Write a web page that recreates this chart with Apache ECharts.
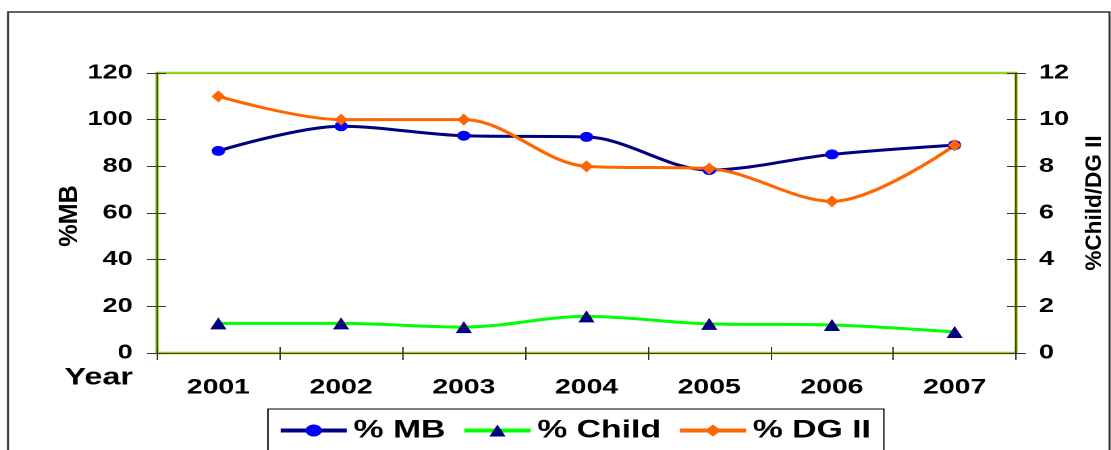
<!DOCTYPE html>
<html>
<head>
<meta charset="utf-8">
<title>% MB, % Child and % DG II, 2001–2007</title>
<script src="https://cdn.jsdelivr.net/npm/echarts@6/dist/echarts.min.js"></script>
<style>
  html, body { margin: 0; padding: 0; background: #fff; overflow: hidden; }
  #wrap { width: 1111px; height: 450px; overflow: hidden; position: relative; }
  /* the chart is laid out on a narrower canvas and widened to the page */
  #chart { width: 823px; height: 450px; transform: scaleX(1.35); transform-origin: 0 0; }
</style>
</head>
<body>
<div id="wrap"><div id="chart"></div></div>
<script>
// Years on the category axis
const years = ['2001', '2002', '2003', '2004', '2005', '2006', '2007'];
// % MB (left axis)
const mbValues = [86.6, 97.2, 93.1, 92.6, 78.4, 85.1, 89.1];
// % Child (right axis)
const childValues = [1.27, 1.27, 1.11, 1.57, 1.25, 1.2, 0.9];
// % DG II (right axis)
const dgValues = [11.0, 10.0, 10.0, 8.0, 7.9, 6.5, 8.9];
// Axis ranges and tick steps
const leftAxisRange = [0, 120, 20];
const rightAxisRange = [0, 12, 2];

const FONT = "'Liberation Sans', Arial, Helvetica, sans-serif";
const tickColor = '#333';
const SMOOTH = 0.33;

function valueAxis(pos, range, withLabels, inside, len) {
  return {
    type: 'value',
    position: pos,
    min: range[0], max: range[1], interval: range[2],
    splitLine: { show: false },
    axisLine: { show: withLabels, lineStyle: { color: '#3f4a00', width: 1 } },
    axisTick: { show: true, inside: inside, length: len, lineStyle: { color: tickColor, width: 1 } },
    axisLabel: {
      show: withLabels, margin: pos === 'left' ? 18 : 17,
      color: '#000', fontFamily: FONT, fontWeight: 'bold', fontSize: 20
    }
  };
}

function categoryAxis(withLabels, inside, len) {
  return {
    type: 'category',
    position: 'bottom',
    data: years,
    boundaryGap: true,
    axisLine: { show: withLabels, lineStyle: { color: '#3f4a00', width: 1 } },
    axisTick: { show: true, inside: inside, length: len, lineStyle: { color: tickColor, width: 1 } },
    axisLabel: {
      show: withLabels, margin: 24,
      color: '#000', fontFamily: FONT, fontWeight: 'bold', fontSize: 21
    }
  };
}

const chart = echarts.init(document.getElementById('chart'), null, { devicePixelRatio: 2 });

chart.setOption({
  animation: false,
  backgroundColor: '#fff',
  grid: {
    left: 116.3, right: 70.4, top: 73, bottom: 97,
    show: true, borderColor: '#9ccc2c', borderWidth: 2.5, backgroundColor: 'transparent'
  },
  graphic: [
    {
      type: 'rect', silent: true, z: -1,
      shape: { x: 5.9, y: 12, width: 816, height: 470 },
      style: { fill: 'none', stroke: '#333', lineWidth: 1.5 }
    },
    {
      type: 'text', x: 98.5, y: 378,
      style: {
        text: 'Year', align: 'right', verticalAlign: 'middle',
        font: "bold 24px " + FONT, fill: '#000'
      }
    },
    {
      type: 'text', x: 51.5, y: 216, rotation: Math.PI / 2, scaleX: 1.05, scaleY: 0.8,
      style: {
        text: '%MB', align: 'center', verticalAlign: 'middle',
        font: "bold 24px " + FONT, fill: '#000'
      }
    },
    {
      type: 'text', x: 811, y: 203, rotation: Math.PI / 2, scaleX: 0.94, scaleY: 0.7,
      style: {
        text: '%Child/DG II', align: 'center', verticalAlign: 'middle',
        font: "bold 24px " + FONT, fill: '#000'
      }
    }
  ],
  legend: {
    left: 198.5, top: 409,
    orient: 'horizontal',
    itemWidth: 49, itemHeight: 15, itemGap: 12,
    padding: [9, 9.6, 12, 7.4],
    borderColor: '#000', borderWidth: 1,
    backgroundColor: '#fff',
    lineStyle: { width: 4 },
    textStyle: { color: '#000', fontFamily: FONT, fontWeight: 'bold', fontSize: 25 },
    data: ['% MB', '% Child', '% DG II']
  },
  xAxis: [
    categoryAxis(true, false, 7),
    categoryAxis(false, true, 6)
  ],
  yAxis: [
    valueAxis('left', leftAxisRange, true, false, 7.4),
    valueAxis('right', rightAxisRange, true, false, 7.4),
    valueAxis('left', leftAxisRange, false, true, 6.7),
    valueAxis('right', rightAxisRange, false, true, 6.7)
  ],
  series: [
    {
      name: '% MB', type: 'line', xAxisIndex: 0, yAxisIndex: 0,
      data: mbValues, smooth: SMOOTH,
      symbol: 'circle', symbolSize: 10, showAllSymbol: true,
      lineStyle: { color: '#000080', width: 3 },
      itemStyle: { color: '#0000ff', borderWidth: 0 }
    },
    {
      name: '% Child', type: 'line', xAxisIndex: 0, yAxisIndex: 1,
      data: childValues, smooth: SMOOTH,
      symbol: 'triangle', symbolSize: [12, 12], showAllSymbol: true,
      lineStyle: { color: '#00ff00', width: 3 },
      itemStyle: { color: '#000080', borderWidth: 0 }
    },
    {
      name: '% DG II', type: 'line', xAxisIndex: 0, yAxisIndex: 1,
      data: dgValues, smooth: SMOOTH,
      symbol: 'diamond', symbolSize: [10, 12], showAllSymbol: true,
      lineStyle: { color: '#ff6600', width: 3 },
      itemStyle: { color: '#ff6600', borderWidth: 0 }
    }
  ]
});
</script>
</body>
</html>
